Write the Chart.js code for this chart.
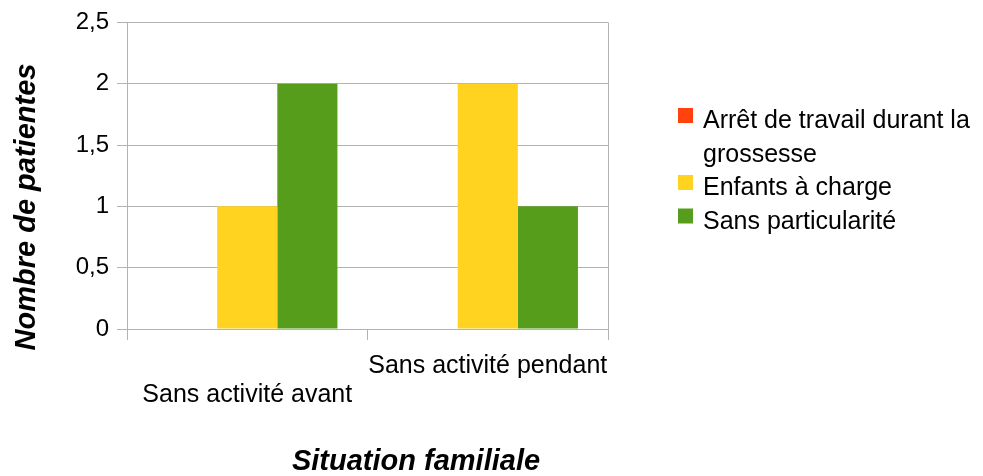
<!DOCTYPE html>
<html>
<head>
<meta charset="utf-8">
<script src="https://cdn.jsdelivr.net/npm/chart.js"></script>
<style>
  html, body { margin: 0; padding: 0; background: #fff; }
  canvas { display: block; }
</style>
</head>
<body>
<canvas id="chart" width="983" height="476"></canvas>
<script>
  // categories and series
  const categories = ['Sans activité avant', 'Sans activité pendant'];
  const seriesNames = ['Arrêt de travail durant la grossesse', 'Enfants à charge', 'Sans particularité'];
  const arretTravail = [0, 0];
  const enfantsCharge = [1, 2];
  const sansParticularite = [2, 1];
  const colors = ['#ff420e', '#ffd320', '#579d1c'];

  const yMax = 2.5;
  const yStep = 0.5;
  const xTitle = 'Situation familiale';
  const yTitle = 'Nombre de patientes';

  const FONT = '"Liberation Sans", Arial, sans-serif';
  const GRID = '#b3b3b3';

  // axis titles, right frame line and the wrapped legend
  const decorations = {
    id: 'decorations',
    afterDraw(chart) {
      const ctx = chart.ctx;
      const area = chart.chartArea;
      ctx.save();

      ctx.strokeStyle = GRID;
      ctx.lineWidth = 1;
      ctx.beginPath();
      ctx.moveTo(Math.round(area.right) + 0.5, area.top);
      ctx.lineTo(Math.round(area.right) + 0.5, area.bottom);
      ctx.stroke();

      ctx.fillStyle = '#000';
      ctx.font = 'italic bold 29px ' + FONT;
      ctx.textAlign = 'center';
      ctx.textBaseline = 'alphabetic';
      ctx.fillText(xTitle, 416, 470);

      ctx.save();
      ctx.translate(35, 207);
      ctx.rotate(-Math.PI / 2);
      ctx.fillText(yTitle, 0, 0);
      ctx.restore();

      // legend
      ctx.font = '25px ' + FONT;
      ctx.textAlign = 'left';
      const textX = 703, boxX = 678, boxSize = 15, lineH = 33.5, maxW = 275;
      let baseline = 128;
      chart.data.datasets.forEach(ds => {
        const words = ds.label.split(' ');
        const lines = [];
        let cur = '';
        words.forEach(w => {
          const test = cur ? cur + ' ' + w : w;
          if (ctx.measureText(test).width > maxW && cur) {
            lines.push(cur);
            cur = w;
          } else {
            cur = test;
          }
        });
        lines.push(cur);
        ctx.fillStyle = ds.backgroundColor;
        ctx.fillRect(boxX, baseline - 20, boxSize, boxSize);
        ctx.fillStyle = '#000';
        lines.forEach(l => {
          ctx.fillText(l, textX, baseline);
          baseline += lineH;
        });
      });
      ctx.restore();
    }
  };

  new Chart(document.getElementById('chart'), {
    type: 'bar',
    data: {
      labels: categories,
      datasets: [
        { label: seriesNames[0], data: arretTravail, backgroundColor: colors[0] },
        { label: seriesNames[1], data: enfantsCharge, backgroundColor: colors[1] },
        { label: seriesNames[2], data: sansParticularite, backgroundColor: colors[2] }
      ]
    },
    options: {
      responsive: false,
      animation: false,
      layout: { padding: { left: 0, right: 375, top: 20, bottom: 0 } },
      datasets: { bar: { categoryPercentage: 0.75, barPercentage: 1, borderWidth: 0 } },
      plugins: {
        legend: { display: false },
        tooltip: { enabled: false }
      },
      scales: {
        x: {
          afterFit(scale) { scale.height = 147; },
          grid: { offset: true, drawOnChartArea: false, color: GRID, tickLength: 11 },
          border: { color: GRID },
          ticks: {
            color: '#000',
            font: { family: FONT, size: 25, lineHeight: 1.16 },
            padding: 12,
            maxRotation: 0,
            autoSkip: false,
            // alternate rows so the long labels do not collide
            callback: (v, i) => i % 2 === 0 ? ['', categories[i]] : categories[i]
          }
        },
        y: {
          min: 0,
          max: yMax,
          afterFit(scale) { scale.width = 127; },
          grid: { color: GRID, tickLength: 10 },
          border: { color: GRID },
          ticks: {
            stepSize: yStep,
            color: '#000',
            font: { family: FONT, size: 24 },
            padding: 8,
            callback: v => String(v).replace('.', ',')
          }
        }
      }
    },
    plugins: [decorations]
  });
</script>
</body>
</html>
